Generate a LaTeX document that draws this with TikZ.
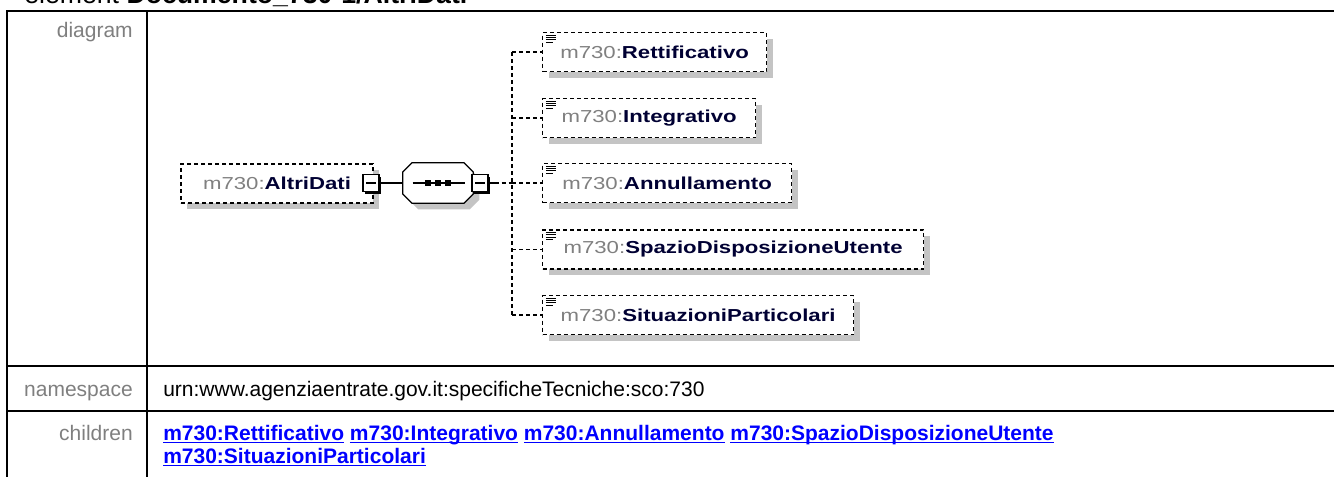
\documentclass[tikz,border=0pt]{standalone}
\usepackage{fontspec}
\setmainfont{Liberation Sans}
\newfontfamily\diagfont[FakeStretch=1.28]{Liberation Sans}
\usetikzlibrary{shadows}
\definecolor{prefixgray}{HTML}{808080}
\definecolor{shadowgray}{HTML}{C4C4C4}
\definecolor{labelgray}{HTML}{7F7F7F}
\definecolor{linkblue}{HTML}{0000FF}
\definecolor{namenavy}{HTML}{000033}
\newcommand{\childlink}[1]{\setbox0\hbox{\textbf{#1}}\rlap{\rule[-2.6pt]{\wd0}{1.1pt}}\box0\relax}
\newcommand{\elname}[1]{{\color{prefixgray}m730:}{\color{namenavy}\bfseries #1}}
\newcommand{\seqoutline}[1]{([xshift=7pt]#1.north west) -- ([xshift=-7pt]#1.north east)
  -- ([yshift=-7pt]#1.north east) -- ([yshift=7pt]#1.south east)
  -- ([xshift=-7pt]#1.south east) -- ([xshift=7pt]#1.south west)
  -- ([yshift=7pt]#1.south west) -- ([yshift=-7pt]#1.north west) -- cycle}
\begin{document}
\begin{tikzpicture}[
    x=0.75pt, y=-0.75pt,
    conn/.style={line width=0.9pt},
    branch/.style={line width=0.9pt, dash pattern=on 3pt off 2.25pt},
    elbox/.style={draw, line width=0.9pt, dash pattern=on 3pt off 2.25pt, fill=white,
                  minimum height=29.25pt, inner sep=0pt,
                  font=\diagfont\fontsize{13}{15}\selectfont,
                  drop shadow={shadow xshift=4.5pt, shadow yshift=-4.5pt,
                               fill=shadowgray, opacity=1}},
    childbox/.style={elbox, anchor=west,
                  path picture={
                    \foreach \k/\len in {1/7.5pt,2/7.5pt,3/7.5pt,4/5.5pt}
                      \draw[solid, line width=0.6pt]
                        ([shift={(2.4pt,-\k*1.8pt)}]path picture bounding box.north west)
                        -- ++(\len,0);}},
    minusbox/.style={draw, fill=white, line width=0.9pt, inner sep=0pt,
                  minimum width=12pt, minimum height=12.75pt,
                  drop shadow={shadow xshift=1.8pt, shadow yshift=-1.8pt,
                               fill=black, opacity=1},
                  path picture={\draw[line width=0.9pt]
                    ([xshift=2.4pt]path picture bounding box.west) --
                    ([xshift=-2.4pt]path picture bounding box.east);}},
    seqbox/.style={inner sep=0pt, minimum width=52.5pt, minimum height=30pt},
    rowlabel/.style={anchor=base east, inner sep=0pt, text=labelgray,
                  font=\fontsize{15.75}{18}\selectfont},
    rowtext/.style={anchor=base west, inner sep=0pt,
                  font=\fontsize{15.75}{18}\selectfont},
    tablerule/.style={line width=1.5pt}
  ]
  \useasboundingbox (0,0) rectangle (1334,476);
  \clip (0,0) rectangle (1334,476);

  %% ── Title (cut off at the top) ──
  \node[anchor=base west, inner sep=0pt, font=\fontsize{20}{23}\selectfont]
    (title) at (24,3.5) {element \textbf{Documento\_730-1/AltriDati}};

  %% ── Table ──
  \draw[tablerule] (7,480) |- (1340,11);
  \draw[tablerule] (147,11) -- (147,480);
  \draw[tablerule] (7,366) -- (1340,366);
  \draw[tablerule] (7,411) -- (1340,411);

  \node[rowlabel] (diaglabel) at (133,37)  {diagram};
  \node[rowlabel] (nslabel)   at (133,396) {namespace};
  \node[rowlabel] (chlabel)   at (133,440) {children};

  \node[rowtext] (nsvalue) at (163,396)
    {urn:www.agenziaentrate.gov.it:specificheTecniche:sco:730};
  \node[rowtext, text=linkblue] (chvalueA) at (163,440)
    {\childlink{m730:Rettificativo} \childlink{m730:Integrativo}
     \childlink{m730:Annullamento} \childlink{m730:SpazioDisposizioneUtente}};
  \node[rowtext, text=linkblue] (chvalueB) at (163,463)
    {\childlink{m730:SituazioniParticolari}};

  %% ── Diagram: parent and sequence ──
  \node[elbox, minimum width=144pt] (altri) at (277,183.5) {\elname{AltriDati}};
  \node[minusbox] (altriminus) at (371,183) {};
  \node[seqbox] (seq) at (438,183) {};
  \fill[shadowgray, transform canvas={shift={(4.5pt,-4.5pt)}}] \seqoutline{seq};
  \filldraw[fill=white, line width=0.9pt] \seqoutline{seq};
  \draw[conn] ([xshift=-19pt]seq.center) -- ([xshift=20pt]seq.center);
  \foreach \dx in {-7.5pt,0pt,7.5pt}
    \fill[black] ([xshift=\dx]seq.center) +(-1.9pt,-1.9pt) rectangle +(1.9pt,1.9pt);
  \node[minusbox] (seqminus) at (480,183) {};
  \coordinate (trunk) at (512,183);

  %% ── Diagram: children ──
  \node[childbox, minimum width=168pt]    (rett)   at (542,52)    {\elname{Rettificativo}};
  \node[childbox, minimum width=159.75pt] (integ)  at (542,118)   {\elname{Integrativo}};
  \node[childbox, minimum width=186.75pt] (annul)  at (542,183)   {\elname{Annullamento}};
  \node[childbox, minimum width=285.75pt] (spazio) at (542,249.5) {\elname{SpazioDisposizioneUtente}};
  \node[childbox, minimum width=233.25pt] (situaz) at (542,315)   {\elname{SituazioniParticolari}};

  %% ── Connectors ──
  \draw[conn] (altriminus) -- (seq);
  \draw[conn] (seqminus.east) -- ++(6,0);
  \draw[branch] ([xshift=4.5pt]seqminus.east) -- (trunk);
  \draw[branch] (trunk |- rett.west) -- (trunk |- situaz.west);
  \foreach \c in {rett,integ,annul,spazio,situaz}
    \draw[branch] (trunk |- \c.west) -- (\c.west);

\end{tikzpicture}
\end{document}
